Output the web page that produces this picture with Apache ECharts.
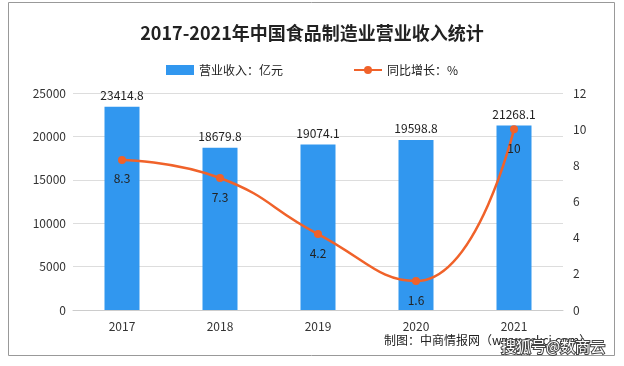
<!DOCTYPE html>
<html><head><meta charset="utf-8">
<script src="https://cdn.jsdelivr.net/npm/echarts@6/dist/echarts.min.js"></script>
<style>html,body{margin:0;padding:0;background:#fff}#c{width:624px;height:366px}</style>
</head><body><div id="c"></div>
<script>
const categories = ['2017','2018','2019','2020','2021'];
const revenue = [23414.8, 18679.8, 19074.1, 19598.8, 21268.1];
const growth = [8.3, 7.3, 4.2, 1.6, 10];
const leftTicks = [0, 25000, 5000];
const rightTicks = [0, 12, 2];
const font = '"Noto Sans CJK SC", sans-serif';
const chart = echarts.init(document.getElementById('c'));
chart.setOption({
  animation: false,
  textStyle: {fontFamily: font},
  title: {text: '2017-2021年中国食品制造业营业收入统计', left: 'center', top: 19,
    textStyle: {fontSize: 18, fontWeight: 'bold', color: '#222', fontFamily: font}},
  legend: {top: 59, left: 'center', itemGap: 70, itemWidth: 28, itemHeight: 10,
    textStyle: {fontSize: 12, color: '#222'},
    data: [{name: '营业收入：亿元', icon: 'rect'}, {name: '同比增长：%'}]},
  grid: {left: 73, right: 61, top: 93, bottom: 56},
  xAxis: {type: 'category', data: categories,
    axisLine: {lineStyle: {color: '#ccc'}}, axisTick: {show: false},
    axisLabel: {color: '#333', fontSize: 12, margin: 10}},
  yAxis: [
    {type: 'value', min: leftTicks[0], max: leftTicks[1], interval: leftTicks[2],
      axisLine: {show: false}, axisTick: {show: false},
      splitLine: {lineStyle: {color: '#ddd'}},
      axisLabel: {color: '#333', fontSize: 12, margin: 7, formatter: v => String(v)}},
    {type: 'value', min: rightTicks[0], max: rightTicks[1], interval: rightTicks[2],
      axisLine: {show: false}, axisTick: {show: false}, splitLine: {show: false},
      axisLabel: {color: '#333', fontSize: 12, margin: 10}}
  ],
  series: [
    {name: '营业收入：亿元', type: 'bar', data: revenue, barWidth: 35,
      itemStyle: {color: '#3197ef'},
      label: {show: true, position: 'top', color: '#222', fontSize: 12, distance: 5}},
    {name: '同比增长：%', type: 'line', yAxisIndex: 1, data: growth, smooth: true,
      symbol: 'circle', symbolSize: 8,
      itemStyle: {color: '#f0622a'}, lineStyle: {color: '#f0622a', width: 2.5},
      label: {show: true, position: 'bottom', color: '#222', fontSize: 12, distance: 9}}
  ],
  graphic: [
    {type: 'rect', shape: {x: 8.5, y: 2.5, width: 606, height: 353},
      style: {fill: 'none', stroke: '#999', lineWidth: 1}},
    {type: 'text', left: 384, top: 334,
      style: {text: '制图：中商情报网（www.askci.com）', fontSize: 12, fill: '#222', fontFamily: font}},
    {type: 'text', left: 500, top: 338,
      style: {text: '搜狐号@数商云', fontSize: 15, fill: '#fff', stroke: '#444', lineWidth: 2, fontFamily: font}}
  ]
});
</script></body></html>
